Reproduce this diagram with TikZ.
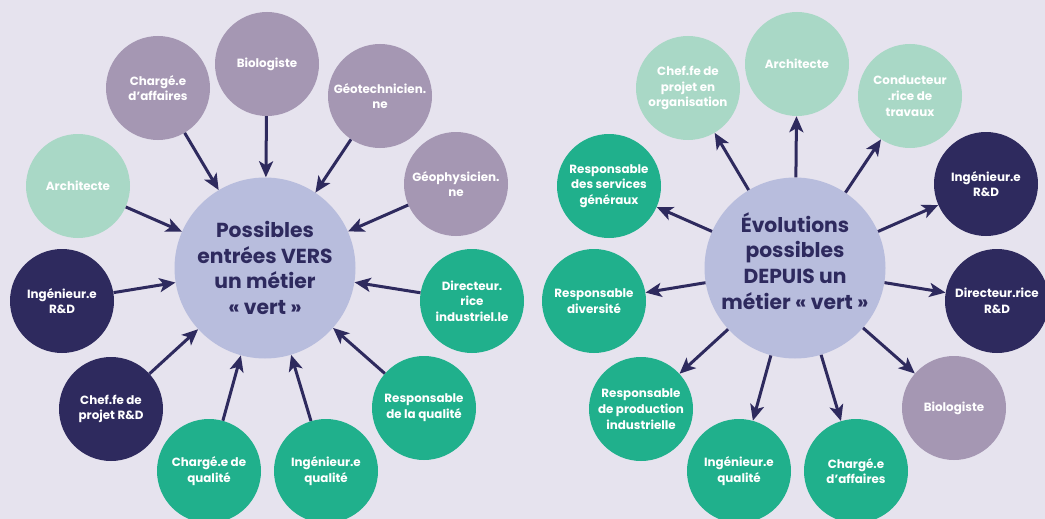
\documentclass[tikz,border=0pt]{standalone}
\usepackage{fontspec}
\setmainfont{Poppins}
\usetikzlibrary{arrows.meta}
\definecolor{MapBack}{HTML}{E6E3EE}
\definecolor{MapCore}{HTML}{B8BDDD}
\definecolor{MapInk}{HTML}{2E2A5E}
\definecolor{MapLilac}{HTML}{A597B3}
\definecolor{MapMint}{HTML}{A9D8C6}
\definecolor{MapGreen}{HTML}{20B08C}
\definecolor{MapNavy}{HTML}{2E2A5E}
\tikzset{
  every node/.style={align=center},
  job/.style={circle, minimum size=104pt, inner sep=0pt, text=white, font=\bfseries\fontsize{11.9}{15.7}\selectfont},
  lilac/.style={job, fill=MapLilac},
  mint/.style={job, fill=MapMint},
  green/.style={job, fill=MapGreen},
  navy/.style={job, fill=MapNavy},
  core/.style={circle, minimum size=181pt, inner sep=0pt, fill=MapCore, text=MapInk, font=\bfseries\fontsize{20.3}{25.7}\selectfont},
  coretext/.style={inner sep=0pt, text=MapInk, font=\bfseries\fontsize{20.3}{25.7}\selectfont},
  flow/.style={-{Stealth[length=16pt,width=14pt,inset=4pt]}, draw=MapInk, line width=3pt},
}

\begin{document}
\begin{tikzpicture}[x=1pt,y=-1pt]
  % Page: pixel grid, y pointing down
  \fill[MapBack] (0,0) rectangle (1045,519);
  \useasboundingbox (0,0) rectangle (1045,519);

  % Left map: jobs leading into a green job
  \node[core] (vin) at (265,268) {Possibles\\entrées VERS\\un métier\\« vert »};
  \node[lilac] (inAff) at (158,88) {Chargé.e\\d’affaires};
  \node[lilac] (inBio) at (267,64) {Biologiste};
  \node[lilac] (inGeot) at (380,96) {Géotechnicien.\\ne};
  \node[lilac] (inGeop) at (456,184) {Géophysicien.\\ne};
  \node[mint] (inArch) at (78,186) {Architecte};
  \node[navy] (inIng) at (62,301) {Ingénieur.e\\R\&D};
  \node[navy] (inChef) at (111,409) {Chef.fe de\\projet R\&D};
  \node[green] (inCq) at (209,471) {Chargé.e de\\qualité};
  \node[green] (inIq) at (326,471) {Ingénieur.e\\qualité};
  \node[green] (inRq) at (424,408) {Responsable\\de la qualité};
  \node[green] (inDir) at (472,301) {Directeur.\\rice\\industriel.le};
  \foreach \n in {inAff,inBio,inGeot,inGeop,inArch,inIng,inChef,inCq,inIq,inRq,inDir}
    \draw[flow] (\n) -- (vin);

  % Right map: jobs reached from a green job
  \node[core] (vout) at (795,268) {};
  \node[coretext] (voutText) at (795,261) {Évolutions\\possibles\\DEPUIS un\\métier « vert »};
  \node[mint] (outChef) at (688,88) {Chef.fe de\\projet en\\organisation};
  \node[mint] (outArch) at (797,64) {Architecte};
  \node[mint] (outCond) at (910,96) {Conducteur\\.rice de\\travaux};
  \node[green] (outSg) at (609,186) {Responsable\\des services\\généraux};
  \node[navy] (outIng) at (986,184) {Ingénieur.e\\R\&D};
  \node[green] (outDiv) at (594,301) {Responsable\\diversité};
  \node[navy] (outDir) at (997,301) {Directeur.rice\\R\&D};
  \node[green] (outProd) at (641,409) {Responsable\\de production\\industrielle};
  \node[green] (outIq) at (739,471) {Ingénieur.e\\qualité};
  \node[green] (outAff) at (856,471) {Chargé.e\\d’affaires};
  \node[lilac] (outBio) at (954,408) {Biologiste};
  \foreach \n in {outChef,outArch,outCond,outSg,outIng,outDiv,outDir,outProd,outIq,outAff,outBio}
    \draw[flow] (vout) -- (\n);
\end{tikzpicture}
\end{document}
